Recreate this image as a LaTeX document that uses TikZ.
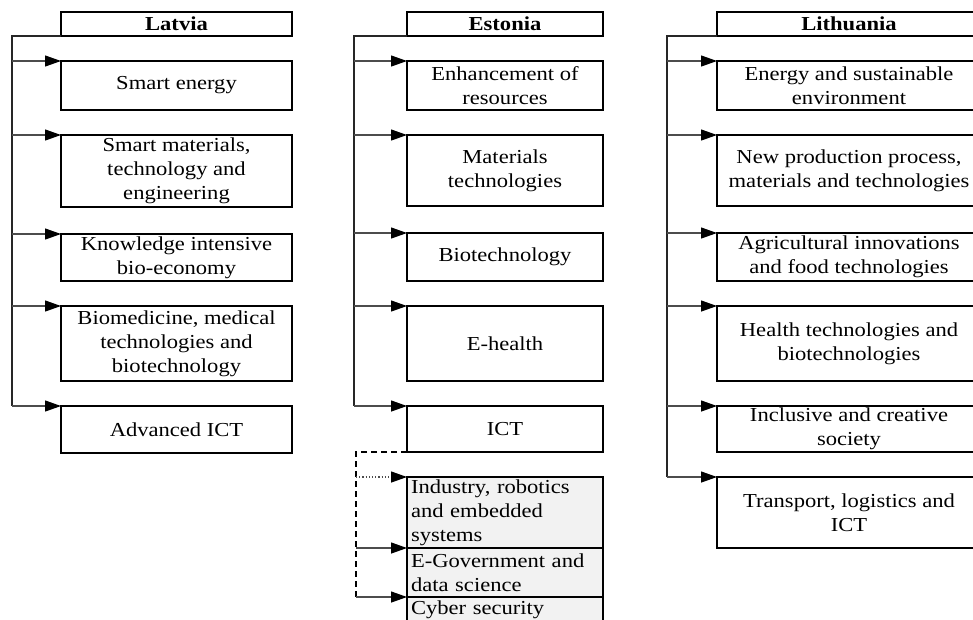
\documentclass[tikz,border=0pt]{standalone}
\usepackage{fontspec}
\setmainfont{Liberation Serif}[FakeStretch=1.14]
\usetikzlibrary{arrows.meta}

\begin{document}
\begin{tikzpicture}[
  x=1pt, y=-1pt,
  box/.style = {rectangle, draw, line width=2pt, anchor=north west, align=center, inner sep=0pt, outer sep=0pt, font=\fontsize{19.8}{24}\selectfont},
  head/.style = {box, font=\fontsize{19.8}{24}\selectfont\bfseries, minimum height=24},
  lat/.style = {box, minimum width=231},
  est/.style = {box, minimum width=196},
  lit/.style = {box, minimum width=264},
  sub/.style = {est, fill=gray!10, align=left, text width=188, inner xsep=4pt},
  trunk/.style = {line width=2.6pt, black!85},
  arrow/.style = {-{Triangle[length=16pt,width=11pt,color=black]}, line width=1.2pt, black!70}
]

\useasboundingbox (0,0) rectangle (973,619);
\clip (0,0) rectangle (973,619);

% Column 1: Latvia
\node[head, minimum width=231] at (61,12) (lat) {Latvia};
\node[lat, minimum height=49] at (61,61) (lat1) {Smart energy};
\node[lat, minimum height=72] at (61,135) (lat2) {Smart materials,\\technology and\\engineering};
\node[lat, minimum height=47] at (61,234) (lat3) {Knowledge intensive\\bio-economy};
\node[lat, minimum height=75] at (61,306) (lat4) {Biomedicine, medical\\technologies and\\biotechnology};
\node[lat, minimum height=47] at (61,406) (lat5) {Advanced ICT};

% Column 2: Estonia
\node[head, minimum width=196] at (407,12) (est) {Estonia};
\node[est, minimum height=49] at (407,61) (est1) {Enhancement of\\resources};
\node[est, minimum height=71] at (407,135) (est2) {Materials\\technologies};
\node[est, minimum height=48] at (407,233) (est3) {Biotechnology};
\node[est, minimum height=75] at (407,306) (est4) {E-health};
\node[est, minimum height=46] at (407,406) (est5) {ICT};

% Estonia: ICT sub-fields
\node[sub, minimum height=71] at (407,477) (est6) {Industry, robotics\\and embedded\\systems};
\node[sub, minimum height=49] at (407,548) (est7) {E-Government and\\data science};
\node[sub, minimum height=26] at (407,597) (est8) {Cyber security};

% Column 3: Lithuania
\node[head, minimum width=264] at (717,12) (lit) {Lithuania};
\node[lit, minimum height=49] at (717,61) (lit1) {Energy and sustainable\\environment};
\node[lit, minimum height=71] at (717,135) (lit2) {New production process,\\materials and technologies};
\node[lit, minimum height=48] at (717,233) (lit3) {Agricultural innovations\\and food technologies};
\node[lit, minimum height=75] at (717,306) (lit4) {Health technologies and\\biotechnologies};
\node[lit, minimum height=46] at (717,406) (lit5) {Inclusive and creative\\society};
\node[lit, minimum height=71] at (717,477) (lit6) {Transport, logistics and\\ICT};

% Trunk corners
\path (lat.south west) ++(-49,0) coordinate (latT);
\path (est.south west) ++(-53,0) coordinate (estT);
\path (est5.south west) ++(-51,0) coordinate (estD);
\path (lit.south west) ++(-50,0) coordinate (litT);

% Latvia connectors
\draw[trunk] (lat.south west) -- (latT) -- (latT |- lat5.north west);
\foreach \n in {lat1,lat2,lat3,lat4,lat5}
  \draw[arrow] (latT |- \n.north west) -- (\n.north west);

% Estonia connectors
\draw[trunk] (est.south west) -- (estT) -- (estT |- est5.north west);
\foreach \n in {est1,est2,est3,est4,est5}
  \draw[arrow] (estT |- \n.north west) -- (\n.north west);
\draw[trunk, black, line width=2.2pt, dash pattern=on 6pt off 4pt] (est5.south west) -- (estD) -- (estD |- est8.north west);
\draw[arrow, dotted] (estD |- est6.north west) -- (est6.north west);
\draw[arrow] (estD |- est7.north west) -- (est7.north west);
\draw[arrow] (estD |- est8.north west) -- (est8.north west);

% Lithuania connectors
\draw[trunk] (lit.south west) -- (litT) -- (litT |- lit6.north west);
\foreach \n in {lit1,lit2,lit3,lit4,lit5,lit6}
  \draw[arrow] (litT |- \n.north west) -- (\n.north west);

\end{tikzpicture}
\end{document}
